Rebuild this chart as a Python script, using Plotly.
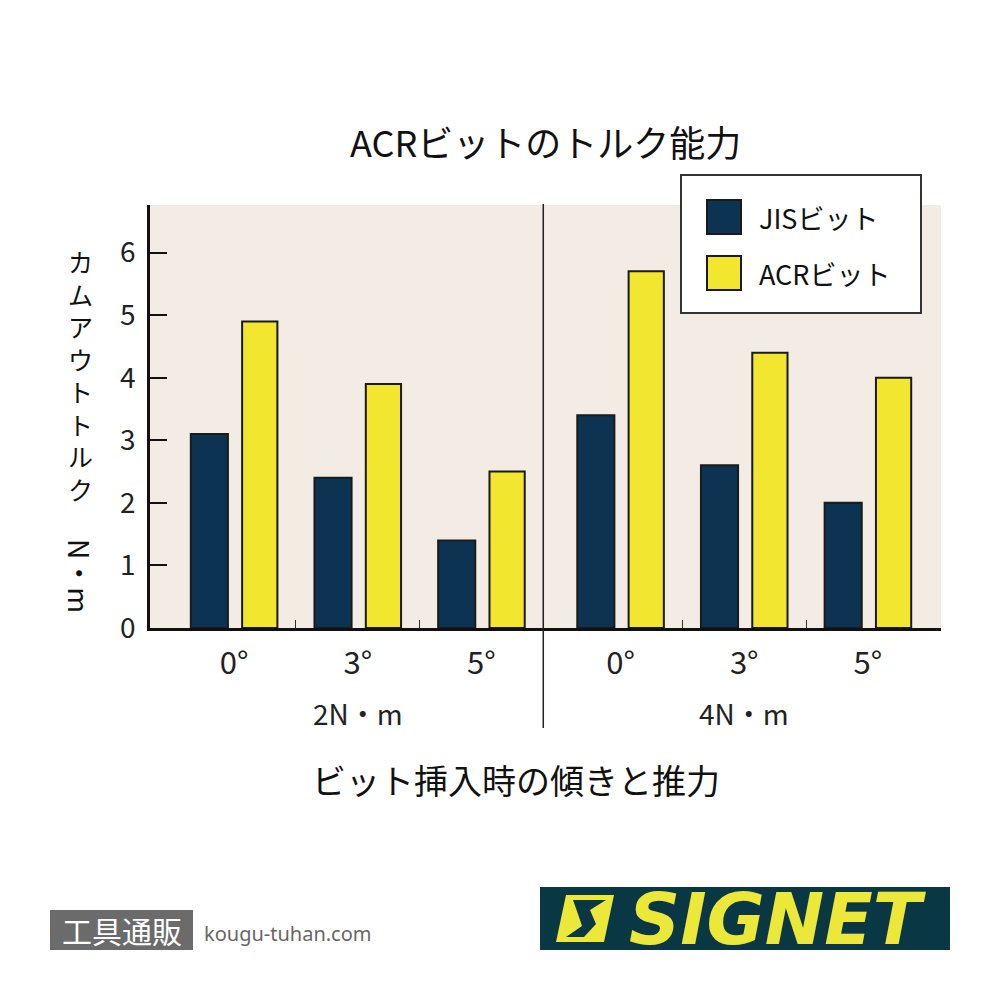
import plotly.graph_objects as go

# ---------------- data ----------------
groups = ["2N・m", "4N・m"]
angles = ["0°", "3°", "5°"]
series_names = ["JISビット", "ACRビット"]
jis_values = [3.1, 2.4, 1.4, 3.4, 2.6, 2.0]
acr_values = [4.9, 3.9, 2.5, 5.7, 4.4, 4.0]
y_ticks = [0, 1, 2, 3, 4, 5, 6]
y_tick_text = ["0", "1", "2", "3", "4", "5", "6"]

title = "ACRビットのトルク能力"
x_title = "ビット挿入時の傾きと推力"
y_title_kana = "カムアウトトルク"
y_title_unit = "N・m"

# ---------------- styling / layout constants ----------------
OFF = 8  # page body margin
W, H = 984, 984
PL, PR, PT, PB = 150, 941, 205, 628   # plot area in page pixels
GROUP_SHIFT = 0.125
JIS_COLOR = "#0c3452"
ACR_COLOR = "#f2e62e"
EDGE = "#1a1a1a"
BG = "#f2ece5"
FONT = "Noto Sans CJK JP, Noto Sans, sans-serif"
TXT = "#1a1a1a"


def px_x(p):
    return (p - PL) / (PR - PL)


def px_y(p):
    return (PB - p) / (PB - PT)


n_ang = len(angles)
x_pos = [g * n_ang + a + g * GROUP_SHIFT for g in range(len(groups)) for a in range(n_ang)]
tick_text = [angles[a] for g in range(len(groups)) for a in range(n_ang)]
minor_vals = [g * n_ang + a + 0.5 + g * GROUP_SHIFT for g in range(len(groups)) for a in range(n_ang - 1)]
divider_x = n_ang - 0.5
group_centers = [g * n_ang + (n_ang - 1) / 2 + g * GROUP_SHIFT for g in range(len(groups))]

fig = go.Figure()
fig.add_trace(go.Bar(
    x=x_pos, y=jis_values, name=series_names[0],
    offset=-0.35, width=0.30,
    marker=dict(color=JIS_COLOR, line=dict(color=EDGE, width=2)),
    showlegend=False,
))
fig.add_trace(go.Bar(
    x=x_pos, y=acr_values, name=series_names[1],
    offset=0.065, width=0.285,
    marker=dict(color=ACR_COLOR, line=dict(color=EDGE, width=2)),
    showlegend=False,
))

fig.update_layout(
    width=W, height=H,
    margin=dict(l=PL - OFF, r=W - (PR - OFF), t=PT - OFF, b=H - (PB - OFF), pad=0),
    paper_bgcolor="white",
    plot_bgcolor=BG,
    barmode="overlay",
    font=dict(family=FONT, color=TXT),
    xaxis=dict(
        range=[-0.68, 5.716],
        tickmode="array", tickvals=x_pos, ticktext=tick_text,
        ticks="", showgrid=False, zeroline=False,
        showline=True, linecolor="#111", linewidth=2.5,
        tickfont=dict(size=31, color="#222"),
        ticklabelstandoff=6,
        minor=dict(tickmode="array", tickvals=minor_vals, ticks="inside",
                   ticklen=8, tickwidth=1.2, tickcolor="#333", showgrid=False),
    ),
    yaxis=dict(
        range=[0, 6.76],
        tickmode="array", tickvals=y_ticks, ticktext=y_tick_text,
        ticks="inside", ticklen=17, tickwidth=2, tickcolor="#111",
        showgrid=False, zeroline=False,
        showline=True, linecolor="#111", linewidth=2.5,
        tickfont=dict(size=28, color="#222"),
        ticklabelstandoff=6,
    ),
)

ann = []
shapes = []

# title
ann.append(dict(text=title, x=px_x(545), y=px_y(141), xref="paper", yref="paper",
                showarrow=False, font=dict(size=36, color="#111"), xanchor="center", yanchor="middle"))
# x title
ann.append(dict(text=x_title, x=px_x(516), y=px_y(779), xref="paper", yref="paper",
                showarrow=False, font=dict(size=34, color="#111"), xanchor="center", yanchor="middle"))
# group labels
for g, name in enumerate(groups):
    ann.append(dict(text=name, x=group_centers[g], y=px_y(713), xref="x", yref="paper",
                    showarrow=False, font=dict(size=28, color="#222"), xanchor="center", yanchor="middle"))
# y title (vertical, one character per line)
ann.append(dict(text="<br>".join(y_title_kana), x=px_x(80), y=px_y(375), xref="paper", yref="paper",
                showarrow=False, font=dict(size=25, color="#111"), xanchor="center", yanchor="middle"))
ann.append(dict(text=y_title_unit, x=px_x(80), y=px_y(576), xref="paper", yref="paper", textangle=90,
                showarrow=False, font=dict(size=28, color="#111"), xanchor="center", yanchor="middle"))

# divider
shapes.append(dict(type="line", xref="x", yref="paper", x0=divider_x, x1=divider_x,
                   y0=px_y(728), y1=px_y(204), line=dict(color="#222", width=1.5)))

# legend box
shapes.append(dict(type="rect", xref="paper", yref="paper",
                   x0=px_x(681), x1=px_x(921), y0=px_y(313), y1=px_y(175),
                   fillcolor="white", line=dict(color="#333", width=2)))
for i, (nm, col) in enumerate(zip(series_names, [JIS_COLOR, ACR_COLOR])):
    cy = 217 + 56 * i
    shapes.append(dict(type="rect", xref="paper", yref="paper",
                       x0=px_x(707), x1=px_x(741), y0=px_y(cy + 17), y1=px_y(cy - 17),
                       fillcolor=col, line=dict(color=EDGE, width=2)))
    ann.append(dict(text=nm, x=px_x(757), y=px_y(cy), xref="paper", yref="paper",
                    showarrow=False, font=dict(size=27, color="#111"), xanchor="left", yanchor="middle"))

# footer left
shapes.append(dict(type="rect", xref="paper", yref="paper",
                   x0=px_x(50), x1=px_x(193), y0=px_y(950), y1=px_y(910),
                   fillcolor="#6b6b6b", line=dict(width=0)))
ann.append(dict(text="工具通販", x=px_x(121.5), y=px_y(930), xref="paper", yref="paper",
                showarrow=False, font=dict(size=30, color="white"), xanchor="center", yanchor="middle"))
ann.append(dict(text="kougu-tuhan.com", x=px_x(202), y=px_y(933), xref="paper", yref="paper",
                showarrow=False, font=dict(size=20, color="#666", family="Noto Sans, sans-serif"),
                xanchor="left", yanchor="middle"))

# footer right logo
shapes.append(dict(type="rect", xref="paper", yref="paper",
                   x0=px_x(540), x1=px_x(950), y0=px_y(950), y1=px_y(887),
                   fillcolor="#0a3744", line=dict(width=0)))


def path(points):
    return "M " + " L ".join(f"{px_x(a):.5f},{px_y(b):.5f}" for a, b in points) + " Z"


shapes.append(dict(type="path", xref="paper", yref="paper",
                   path=path([(566, 895), (614, 895), (604, 942), (556, 942)]),
                   fillcolor="#ece83a", line=dict(width=0)))
shapes.append(dict(type="path", xref="paper", yref="paper",
                   path=path([(573, 900), (606, 900), (590, 910), (596, 924), (584, 937), (566, 937), (582, 926), (578, 914)]),
                   fillcolor="#0a3744", line=dict(width=0)))
ann.append(dict(text="<b><i>SIGNET</i></b>", x=px_x(778), y=px_y(919), xref="paper", yref="paper",
                showarrow=False, font=dict(size=71, color="#ece83a", family="DejaVu Sans, sans-serif"),
                xanchor="center", yanchor="middle"))

fig.update_layout(annotations=ann, shapes=shapes)
fig.write_html("out.html")
